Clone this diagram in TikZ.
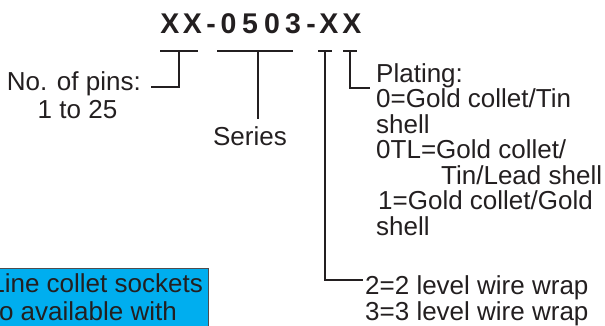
\documentclass[tikz,border=0pt]{standalone}
\usepackage{fontspec}
\setmainfont{Liberation Sans}
\definecolor{ink}{RGB}{35,31,32}
\definecolor{boxblue}{RGB}{0,174,239}
\begin{document}
\begin{tikzpicture}[x=1pt,y=-1pt,
  txt/.style={inner sep=0pt,text=ink,font=\fontsize{26}{26}\selectfont},
  ttl/.style={inner sep=0pt,text=ink,anchor=base,font=\fontsize{28.5}{28.5}\selectfont\bfseries},
  brk/.style={draw=ink,line width=2pt}]
\useasboundingbox (0,0) rectangle (605,325);
% title
\foreach \c/\x [count=\i] in {X/170,X/192.5,-/211,0/228.5,5/250,0/272,3/293,-/311,X/329,X/352}
  \node[ttl] (t\i) at (\x,33) {\c};
% brackets
\coordinate (a1) at (160,50.5); \coordinate (a2) at (198,50.5);
\coordinate (am) at (179,50.5); \coordinate (ab) at (179,87); \coordinate (ae) at (151,87);
\draw[brk] (a1) -- (a2);
\draw[brk] (am) -- (ab) -- (ae);
\coordinate (b1) at (217,50.5); \coordinate (b2) at (293,50.5);
\coordinate (bm) at (258,50.5); \coordinate (bb) at (258,119);
\draw[brk] (b1) -- (b2);
\draw[brk] (bm) -- (bb);
\coordinate (c1) at (318,50.5); \coordinate (c2) at (332,50.5);
\coordinate (cm) at (325,50.5); \coordinate (cb) at (325,280); \coordinate (ce) at (363,280);
\draw[brk] (c1) -- (c2);
\draw[brk] (cm) -- (cb) -- (ce);
\coordinate (d1) at (343,50.5); \coordinate (d2) at (357,50.5);
\coordinate (dm) at (350,50.5); \coordinate (db) at (350,88); \coordinate (de) at (370,88);
\draw[brk] (d1) -- (d2);
\draw[brk] (dm) -- (db) -- (de);
% left labels
\node[txt,anchor=base east] (pins) at (141,90) {No. of pins:};
\node[txt,anchor=base] (range) at (77.5,118) {1 to 25};
\node[txt,anchor=base] (series) at (250,145) {Series};
% right labels
\node[txt,anchor=base west] (r1) at (376,82) {Plating:};
\node[txt,anchor=base west] (r2) at (376,107.5) {0=Gold collet/Tin};
\node[txt,anchor=base west] (r3) at (376,133) {shell};
\node[txt,anchor=base west] (r4) at (376,158.5) {0TL=Gold collet/};
\node[txt,anchor=base west] (r5) at (441,184) {Tin/Lead shell};
\node[txt,anchor=base west] (r6) at (378,209.5) {1=Gold collet/Gold};
\node[txt,anchor=base west] (r7) at (376,235) {shell};
\node[txt,anchor=base west] (w2) at (365,294) {2=2 level wire wrap};
\node[txt,anchor=base west] (w3) at (365,320) {3=3 level wire wrap};
% blue box
\path[fill=boxblue,draw=ink!80,line width=1pt] (-5,268) rectangle (208,340);
\node[txt,anchor=base east] (n1) at (203,292) {Line collet sockets};
\node[txt,anchor=base east] (n2) at (177,320) {o available with};
\end{tikzpicture}
\end{document}
